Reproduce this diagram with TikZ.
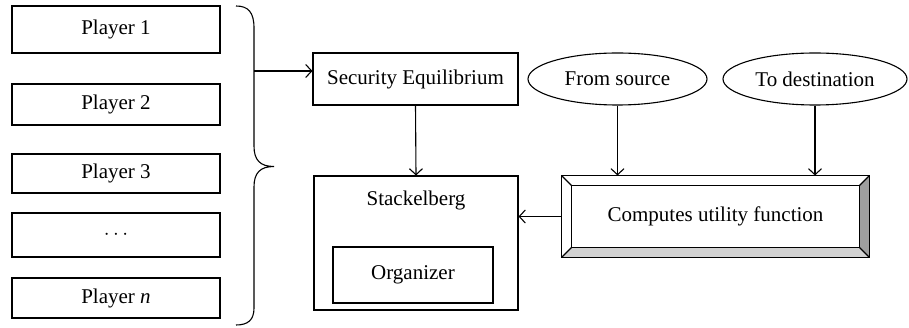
\documentclass[tikz,border=0pt]{standalone}
\usepackage{fontspec}
\setmainfont{Liberation Serif}
\usetikzlibrary{arrows.meta,shapes.geometric}
\begin{document}
\begin{tikzpicture}[x=1pt,y=-1pt,
  line width=1.1pt,
  every node/.style={font=\fontsize{21}{25}\selectfont},
  box/.style={draw,rectangle,inner sep=0pt,minimum width=#1},
  oval/.style={draw,ellipse,inner sep=0pt,minimum height=52,minimum width=#1},
  link/.style={-{Straight Barb[length=6pt,width=13pt,line width=1.1pt]}},
]
\useasboundingbox (0,0) rectangle (909,328);

% players
\node[box=208,minimum height=47] (p1) at (116,29.5) {Player 1};
\node[box=208,minimum height=41] (p2) at (116,104.5) {Player 2};
\node[box=208,minimum height=39] (p3) at (116,173.5) {Player 3};
\node[box=208,minimum height=44] (pd) at (116,235) {$\cdots$};
\node[box=208,minimum height=40] (pn) at (116,298) {Player \textit{n}};

% brace grouping the players
\draw (236,6) .. controls (248,6) and (254,12) .. (254,28)
  -- (254,146) .. controls (254,160) and (260,166.5) .. (274,166.5)
  .. controls (260,166.5) and (254,173) .. (254,187)
  -- (254,308) .. controls (254,320) and (248,325) .. (236,325);
\coordinate (brc) at (254,71);

% security equilibrium and stackelberg
\node[box=205,minimum height=52] (sec) at (415.5,79) {Security Equilibrium};
\node[box=204,minimum height=134] (stk) at (416,243) {};
\node (stkt) at (416,200) {Stackelberg};
\node[box=160,minimum height=56] (org) at (413,275) {Organizer};

% source and destination
\node[oval=179] (src) at (617.5,79) {From source};
\node[oval=184] (dst) at (815,79) {To destination};

% bevelled box
\node[rectangle,inner sep=0pt,minimum width=307,minimum height=81] (comp) at (715.5,216.5) {};
\fill[gray!75] (comp.north east) -- ([shift={(-10,10)}]comp.north east)
  -- ([shift={(-10,-10)}]comp.south east) -- (comp.south east) -- cycle;
\fill[gray!35] (comp.south west) -- ([shift={(10,-10)}]comp.south west)
  -- ([shift={(-10,-10)}]comp.south east) -- (comp.south east) -- cycle;
\draw (comp.north west) rectangle (comp.south east);
\draw ([shift={(10,10)}]comp.north west) rectangle ([shift={(-10,-10)}]comp.south east);
\draw (comp.north west) -- ([shift={(10,10)}]comp.north west);
\draw (comp.north east) -- ([shift={(-10,10)}]comp.north east);
\draw (comp.south west) -- ([shift={(10,-10)}]comp.south west);
\draw (comp.south east) -- ([shift={(-10,-10)}]comp.south east);
\node at (comp.center) {Computes utility function};

% connectors
\draw[link] (brc) -- (brc -| sec.west);
\draw[link] (sec.south) -- (stk.north);
\draw[link] (src.south) -- (src.south |- comp.north);
\draw[link] (dst.south) -- (dst.south |- comp.north);
\draw[link] (comp.west) -- (comp.west -| stk.east);
\end{tikzpicture}
\end{document}
